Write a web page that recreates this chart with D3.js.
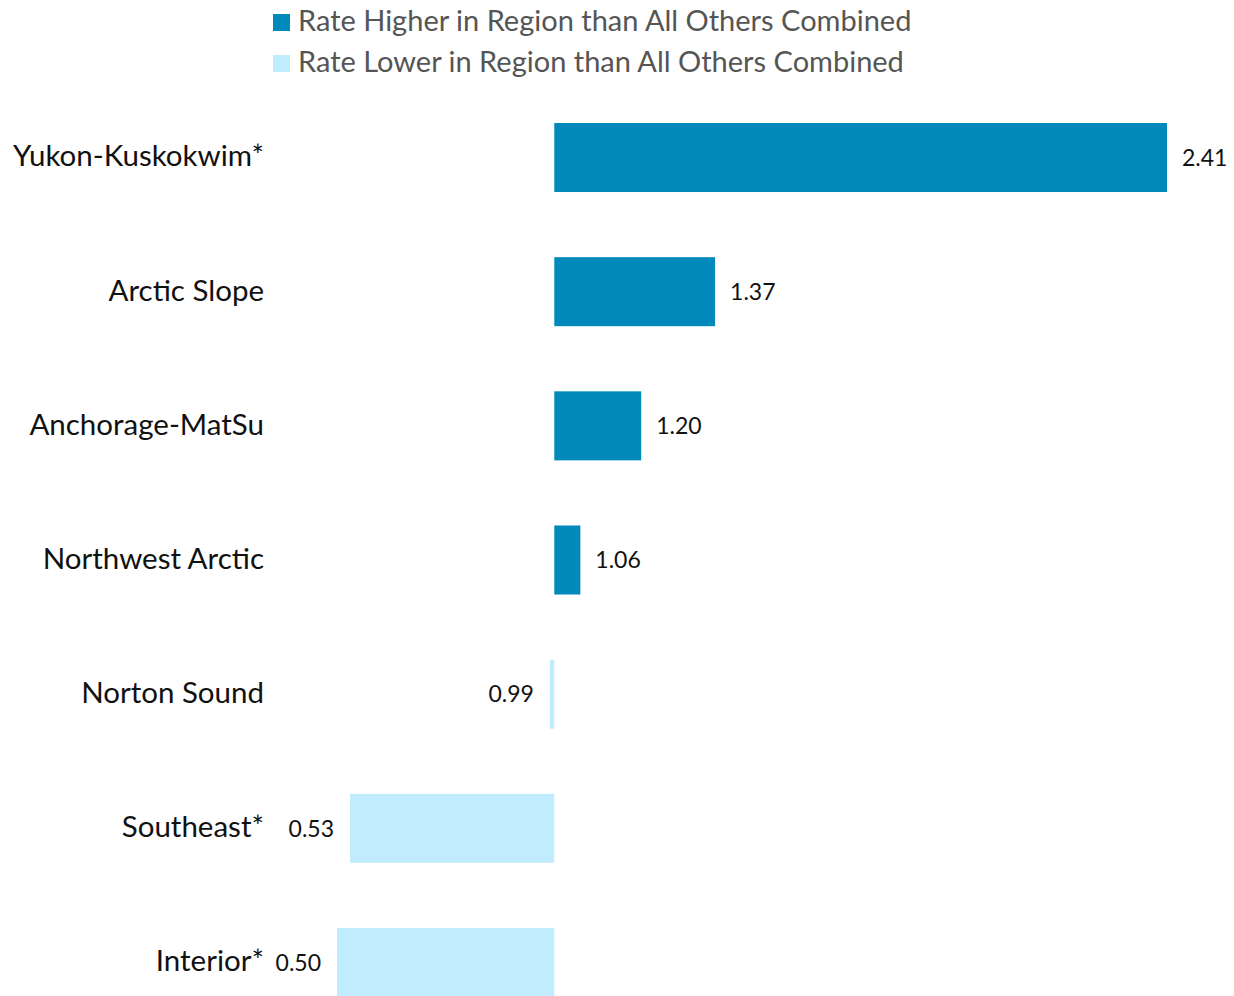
<!DOCTYPE html>
<html><head><meta charset="utf-8">
<script src="https://cdn.jsdelivr.net/npm/d3@7"></script>
<style>body{margin:0;background:#fff}svg{display:block}</style>
</head><body>
<svg id="c" width="1234" height="996"></svg>
<script>
const categories = ["Yukon-Kuskokwim*","Arctic Slope","Anchorage-MatSu","Northwest Arctic","Norton Sound","Southeast*","Interior*"];
const values = [2.41,1.37,1.20,1.06,0.99,0.53,0.50];
const valueLabels = ["2.41","1.37","1.20","1.06","0.99","0.53","0.50"];
const legendLabels = ["Rate Higher in Region than All Others Combined","Rate Lower in Region than All Others Combined"];
const colors = ["#0289bb","#c1ecfe"];
const FONT = "Lato, 'Open Sans', sans-serif";

const svg = d3.select("#c");
const baseline = 1;
const x = d3.scaleLinear().domain([0.5, 2.41]).range([337, 1167]);
const y = d3.scaleBand().domain(categories).range([123, 997]).paddingInner(0.4855).paddingOuter(0);

const data = categories.map((c,i)=>({c, v: values[i], lab: valueLabels[i]}));

svg.selectAll("rect.bar").data(data).join("rect").attr("class","bar")
  .attr("x", d=>x(Math.min(d.v,baseline)))
  .attr("width", d=>Math.abs(x(d.v)-x(baseline)))
  .attr("y", d=>y(d.c)).attr("height", y.bandwidth())
  .attr("fill", d=>d.v>=baseline?colors[0]:colors[1]);

svg.selectAll("text.val").data(data).join("text").attr("class","val")
  .attr("x", d=>d.v>=baseline? x(d.v)+15 : x(d.v)-16)
  .attr("y", d=>y(d.c)+y.bandwidth()/2)
  .attr("dy","0.36em")
  .attr("text-anchor", d=>d.v>=baseline?"start":"end")
  .attr("font-family", FONT).attr("font-size", 23).attr("fill","#111")
  .text(d=>d.lab);

svg.selectAll("text.cat").data(data).join("text").attr("class","cat")
  .attr("x", 264).attr("y", d=>y(d.c)+y.bandwidth()/2)
  .attr("dy","0.3em").attr("text-anchor","end")
  .attr("font-family", FONT).attr("font-size", 29.5).attr("fill","#111")
  .text(d=>d.c);

const lg = svg.append("g");
legendLabels.forEach((t,i)=>{
  lg.append("rect").attr("x",273).attr("y",14+i*41).attr("width",17).attr("height",17).attr("fill",colors[i]);
  lg.append("text").attr("x",298).attr("y",31+i*41)
    .attr("font-family",FONT).attr("font-size",29).attr("fill","#555").text(t);
});
</script>
</body></html>
